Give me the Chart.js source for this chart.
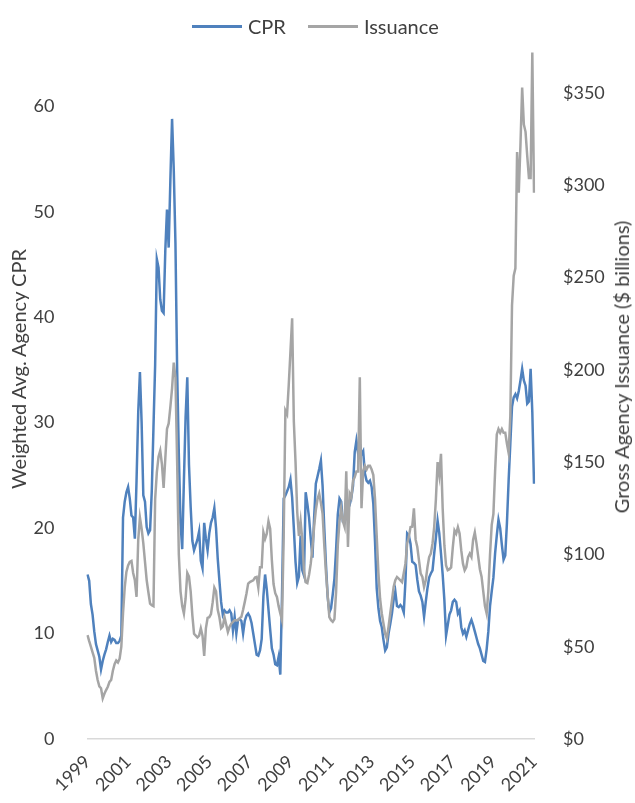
<!DOCTYPE html>
<html>
<head>
<meta charset="utf-8">
<script src="https://cdn.jsdelivr.net/npm/chart.js@4.4.1/dist/chart.umd.min.js"></script>
<style>
    html, body { margin: 0; padding: 0; background: #fff; }
    #wrap { position: relative; width: 635px; height: 803px; overflow: hidden; font-family: Lato, sans-serif; color: #404040; }
    /* canvas pushed up so the plot area starts at the page top, like the cropped original */
    #chart { position: absolute; left: 0; top: -35px; }
    .legend { position: absolute; top: 14px; left: 192px; display: flex; align-items: center; font-size: 20px; white-space: nowrap; }
    .legend .swatch { display: inline-block; width: 50px; height: 3px; margin-right: 6px; }
    .legend .item { display: flex; align-items: center; margin-right: 22px; }
    .axis-title { position: absolute; font-size: 20px; white-space: nowrap; transform: translate(-50%, -50%) rotate(-90deg); }
</style>
</head>
<body>
<div id="wrap">
    <canvas id="chart" width="635" height="838"></canvas>
    <div class="legend">
        <span class="item"><span class="swatch" style="background:#4F81BD"></span>CPR</span>
        <span class="item"><span class="swatch" style="background:#A5A5A5"></span>Issuance</span>
    </div>
    <div class="axis-title" style="left:18px; top:369px;">Weighted Avg. Agency CPR</div>
    <div class="axis-title" style="left:621px; top:367px;">Gross Agency Issuance ($ billions)</div>
</div>
<script>
// Tick labels shown on the x axis (every second January)
const yearTicks = ['1999', '2001', '2003', '2005', '2007', '2009', '2011', '2013', '2015', '2017', '2019', '2021'];
const monthNames = ['Jan', 'Feb', 'Mar', 'Apr', 'May', 'Jun', 'Jul', 'Aug', 'Sep', 'Oct', 'Nov', 'Dec'];

// Weighted avg. agency CPR, monthly from Jan 1999
const cpr = [
    15.6, 15.0, 12.8, 11.8, 10.2, 9.0, 8.4, 7.8, 6.6, 7.4, 8.0, 8.5,
    9.2, 9.8, 9.2, 9.5, 9.4, 9.1, 9.1, 9.3, 9.8, 21.0, 22.5, 23.4,
    23.9, 22.8, 21.2, 21.0, 19.0, 24.5, 31.0, 34.8, 30.0, 23.1, 22.5, 20.1,
    19.5, 19.8, 23.5, 29.5, 35.5, 45.5, 44.7, 41.7, 40.6, 40.4, 46.3, 50.2,
    46.6, 53.0, 58.8, 54.0, 47.0, 35.0, 27.0, 20.5, 18.0, 24.5, 30.5, 34.3,
    26.0, 22.0, 18.8, 17.9, 18.4, 18.9, 19.7, 16.9, 16.2, 20.5, 19.0, 17.9,
    19.5, 20.5, 21.0, 21.9, 20.0, 17.1, 15.0, 13.0, 11.8, 12.2, 12.0, 12.0,
    12.2, 11.9, 10.3, 11.6, 10.0, 11.3, 11.4, 11.2, 10.0, 11.2, 11.7, 11.9,
    11.6, 11.0, 10.0, 9.0, 8.0, 7.9, 8.4, 9.5, 13.5, 15.6, 14.2, 12.3,
    10.4, 8.6, 8.0, 7.1, 7.0, 7.8, 6.1, 13.5, 22.8, 23.1, 23.5, 23.9,
    24.6, 22.9, 20.0, 16.8, 14.8, 15.4, 19.3, 16.0, 15.5, 23.4, 22.3, 21.0,
    19.0, 17.2, 21.0, 24.2, 24.9, 25.6, 26.4, 24.0, 20.0, 16.5, 13.5, 12.0,
    12.4, 13.7, 15.2, 18.0, 21.3, 22.8, 22.5, 20.6, 20.5, 21.2, 22.3, 22.2,
    22.9, 24.0, 27.2, 28.3, 27.1, 28.0, 27.0, 27.3, 25.2, 24.5, 24.3, 24.5,
    23.9, 22.3, 18.7, 14.3, 12.4, 11.2, 10.6, 9.4, 8.4, 8.7, 10.0, 10.9,
    11.9, 13.2, 14.0, 12.6, 12.5, 12.7, 12.5, 12.0, 15.0, 19.5, 19.3, 18.5,
    16.8, 16.7, 16.5, 15.1, 14.0, 13.6, 13.0, 11.6, 13.0, 14.3, 15.3, 15.7,
    16.0, 17.6, 19.1, 20.7, 19.5, 17.6, 15.6, 13.2, 9.8, 10.8, 11.8, 12.2,
    13.0, 13.2, 13.0, 11.9, 12.2, 10.6, 10.0, 10.3, 9.7, 10.3, 10.9, 11.3,
    10.8, 10.2, 9.6, 9.0, 8.6, 8.0, 7.4, 7.3, 8.5, 10.2, 12.6, 14.0,
    15.3, 17.6, 19.3, 20.8, 20.0, 18.4, 17.0, 17.4, 20.5, 24.5, 28.0, 31.5,
    32.4, 32.7, 32.3, 33.0, 34.0, 35.1, 34.0, 33.5, 31.8, 32.0, 35.1, 31.0,
    24.2
];

// Gross agency issuance, $ billions, monthly from Jan 1999
const issuance = [
    56.3, 53.0, 50.0, 47.0, 44.0, 37.0, 32.0, 28.5, 27.5, 22.0, 24.5, 26.5,
    28.3, 31.0, 32.0, 37.0, 40.5, 42.5, 41.5, 43.5, 50.0, 68.0, 82.0, 90.5,
    94.0, 96.0, 96.5, 90.0, 86.0, 77.0, 108.0, 120.0, 114.0, 106.0, 96.0, 86.0,
    79.5, 73.4, 72.5, 72.0, 130.0, 144.5, 153.0, 156.3, 149.0, 136.0, 152.0, 168.0,
    171, 180, 190, 204, 196, 150, 100, 80, 72, 68, 76, 90,
    88, 80, 67, 57, 56, 55, 56, 60, 56, 45, 60, 65.6,
    66, 67.7, 74, 82, 80, 70, 66, 60, 61, 66, 62, 58,
    60.8, 62.5, 63.5, 64.4, 64.4, 64.4, 65.5, 66.2, 70, 74.3, 78.8, 84.2,
    85, 85.5, 86, 87.5, 87.8, 82, 93, 93, 112, 108.5, 111.3, 118,
    114, 97, 84, 79, 77, 72, 68, 64.4, 110, 178, 176, 192,
    210, 228, 172, 150, 123, 110, 118, 108, 91, 85, 84.5, 89,
    95, 104, 115, 124, 130, 133, 128, 122, 105, 90, 78, 66,
    64.4, 63.5, 65, 80, 105, 118, 125, 118, 115, 145, 104, 133,
    131, 140, 142, 145, 145, 196, 125, 145, 148, 146, 148, 148,
    146, 143, 130, 110, 90, 76, 68, 62.6, 57, 54.5, 60.8, 68,
    75, 82.4, 86, 87.8, 86.9, 86, 85, 90, 95, 106, 109.4, 114.8,
    115, 125, 108, 104, 96.8, 89.6, 87.8, 82.4, 86, 93, 98.6, 100.5,
    106, 115, 130, 150, 143, 154.5, 125, 105, 94, 91.5, 92, 93,
    104, 113, 111.3, 114.8, 111.3, 102.2, 95, 91.4, 93.2, 98.6, 100.5, 98.6,
    108, 112, 106, 99, 92, 88, 80, 72, 68, 80, 100, 116,
    122, 145, 165, 168, 166, 168, 166, 166, 160, 155, 175, 235,
    251, 255, 318, 296, 322, 353, 333, 329, 316, 304, 304, 372,
    296
];

// Month labels for the category axis
const labels = [];
for (let y = 1999; labels.length < cpr.length; y++) {
    monthNames.forEach(m => {
        if (labels.length < cpr.length) labels.push(m + ' ' + y);
    });
}

const tickFont = { family: 'Lato', size: 18 };
const textColor = '#404040';

new Chart(document.getElementById('chart'), {
    type: 'line',
    data: {
        labels: labels,
        datasets: [
            {
                label: 'CPR',
                data: cpr,
                yAxisID: 'y',
                borderColor: '#4F81BD',
                borderWidth: 2.5,
                pointRadius: 0,
                tension: 0,
                order: 2
            },
            {
                label: 'Issuance',
                data: issuance,
                yAxisID: 'y1',
                borderColor: '#A5A5A5',
                borderWidth: 2.5,
                pointRadius: 0,
                tension: 0,
                order: 1
            }
        ]
    },
    options: {
        responsive: false,
        animation: false,
        devicePixelRatio: 1,
        layout: { padding: 0 },
        plugins: {
            legend: { display: false },
            tooltip: { enabled: false }
        },
        scales: {
            x: {
                grid: { display: false },
                border: { color: '#D9D9D9', width: 1.5 },
                ticks: {
                    autoSkip: false,
                    minRotation: 45,
                    maxRotation: 45,
                    padding: 4,
                    color: textColor,
                    font: tickFont,
                    callback: (value, index) => index % 24 === 0 ? yearTicks[index / 24] : null
                },
                afterFit: scale => { scale.height = 64; }
            },
            y: {
                position: 'left',
                min: 0,
                max: 70,
                grid: { display: false },
                border: { display: false },
                ticks: {
                    stepSize: 10,
                    padding: 25,
                    color: textColor,
                    font: tickFont,
                    callback: value => value === 70 ? null : value
                },
                afterFit: scale => { scale.width = 87.5; }
            },
            y1: {
                position: 'right',
                min: 0,
                max: 400,
                grid: { display: false },
                border: { display: false },
                ticks: {
                    stepSize: 50,
                    padding: 21,
                    color: textColor,
                    font: tickFont,
                    callback: value => value === 400 ? null : '$' + value
                },
                afterFit: scale => { scale.width = 101; }
            }
        }
    }
});
</script>
</body>
</html>
